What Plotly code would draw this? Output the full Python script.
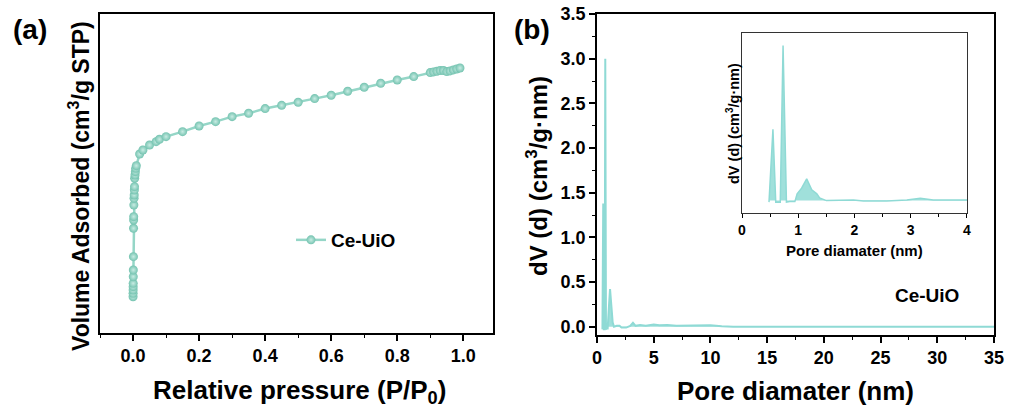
import plotly.graph_objects as go

# ---------- data ----------
# (a) N2 isotherm, Ce-UiO
rel_pressure = [0.0001, 0.0002, 0.0003, 0.0004, 0.0005, 0.0007, 0.0009, 0.0012, 0.0015, 0.0018,
                0.002, 0.0025, 0.003, 0.0035, 0.004, 0.0045, 0.005, 0.006, 0.007, 0.008, 0.01,
                0.02, 0.03, 0.05, 0.07, 0.08, 0.10, 0.15, 0.20, 0.25, 0.30, 0.35, 0.40, 0.45,
                0.50, 0.55, 0.60, 0.65, 0.70, 0.75, 0.80, 0.85, 0.90, 0.91, 0.92, 0.93, 0.94,
                0.95, 0.96, 0.97, 0.98, 0.99]
vol_adsorbed = [45.5, 49.7, 53.9, 58.1, 62.3, 70.6, 79.0, 95.7, 131.3, 141.7,
                145.9, 160.5, 168.9, 173.1, 179.3, 183.5, 194.0, 198.1, 202.3, 206.5, 209.8,
                224.4, 229.5, 235.7, 239.9, 242.9, 246.2, 252.5, 259.6, 265.0, 271.3, 275.5, 281.4, 285.5,
                289.3, 293.9, 298.1, 303.1, 308.1, 313.1, 317.3, 321.5, 326.5, 327.4, 328.2, 329.1, 329.1,
                327.8, 328.6, 329.9, 331.1, 332.3]

# (b) pore size distribution, Ce-UiO
pore_d = [0.48, 0.55, 0.60, 0.66, 0.68, 0.73, 0.79, 0.85, 0.94, 0.98, 1.06, 1.15, 1.24, 1.33,
          1.38, 1.50, 1.74, 1.98, 2.16, 2.57, 2.93, 3.17, 3.40, 3.8, 4.3, 5.0, 5.5, 6.2, 7.0,
          8.0, 9.0, 10.0, 11.0, 12.0, 15.0, 20.0, 25.0, 30.0, 35.0]
dv_d = [-0.03, 1.38, -0.03, -0.03, -0.03, 3.00, -0.03, -0.02, -0.02, 0.13, 0.24, 0.42, 0.21, 0.13,
        0.05, 0.0, 0.01, 0.01, -0.01, -0.01, 0.01, 0.045, 0.01, 0.02, 0.01, 0.025, 0.015, 0.02, 0.01,
        0.01, 0.015, 0.015, 0.005, 0.0, 0.0, 0.0, 0.0, 0.0, 0.0]

series_name = "Ce-UiO"
iso_xticks = [0.0, 0.2, 0.4, 0.6, 0.8, 1.0]
psd_xticks = [0, 5, 10, 15, 20, 25, 30, 35]
psd_yticks = [0.0, 0.5, 1.0, 1.5, 2.0, 2.5, 3.0, 3.5]
inset_xticks = [0, 1, 2, 3, 4]

# ---------- style ----------
FONT = "Liberation Sans"
W, H = 1011, 415
MARKER_C = "#74c3b0"
LINE_C = "#95d6c7"
PSD_C = "#8fdad5"
PSD_FILL = "rgba(143,218,213,0.85)"


def px_x(p):
    return p / W


def px_y(p):
    return 1 - p / H


fig = go.Figure()

fig.add_trace(go.Scatter(
    x=rel_pressure, y=vol_adsorbed, mode="lines+markers", name=series_name,
    line=dict(color=LINE_C, width=2.5),
    marker=dict(size=9, color=MARKER_C, gradient=dict(type="radial", color="#c8ece3")),
    xaxis="x", yaxis="y", showlegend=True,
))

fig.add_trace(go.Scatter(
    x=pore_d, y=dv_d, mode="lines", fill="tozeroy", fillcolor=PSD_FILL,
    line=dict(color=PSD_C, width=2), xaxis="x2", yaxis="y2", showlegend=False,
))

fig.add_trace(go.Scatter(
    x=pore_d, y=dv_d, mode="lines", fill="tozeroy", fillcolor=PSD_FILL,
    line=dict(color=PSD_C, width=1.5), xaxis="x3", yaxis="y3", showlegend=False,
))

tickfont = dict(family=FONT, size=18, color="black", weight="bold")
axline = dict(showline=True, linecolor="black", linewidth=1.6, mirror=True,
              showgrid=False, zeroline=False, automargin=False)

fig.update_layout(
    width=W, height=H, margin=dict(l=0, r=0, t=0, b=0, pad=0, autoexpand=False),
    paper_bgcolor="white", plot_bgcolor="rgba(0,0,0,0)",
    font=dict(family=FONT, color="black"),
    xaxis=dict(domain=[px_x(100), px_x(493)], range=[-0.1, 1.09], anchor="y",
               tickvals=iso_xticks, ticktext=[f"{v:.1f}" for v in iso_xticks],
               ticks="outside", ticklen=6, tickwidth=1.5, tickcolor="black",
               minor=dict(dtick=0.1, tick0=0, ticks="outside", ticklen=3.5, tickwidth=1.2, tickcolor="black"),
               tickfont=tickfont, **axline),
    yaxis=dict(domain=[px_y(333), px_y(14)], range=[0, 400], anchor="x",
               showticklabels=False, ticks="", **axline),
    xaxis2=dict(domain=[px_x(597), px_x(994)], range=[0, 35.0001], anchor="y2",
                tickvals=psd_xticks, ticks="outside", ticklen=6, tickwidth=1.5, tickcolor="black",
                minor=dict(dtick=2.5, tick0=0, ticks="outside", ticklen=3.5, tickwidth=1.2, tickcolor="black"),
                tickfont=tickfont, **axline),
    yaxis2=dict(domain=[px_y(335), px_y(14)], range=[-0.093, 3.5005], anchor="x2",
                tickvals=psd_yticks, ticktext=[f"{v:.1f}" for v in psd_yticks],
                ticks="outside", ticklen=6, tickwidth=1.5, tickcolor="black",
                minor=dict(dtick=0.25, tick0=0, ticks="outside", ticklen=3.5, tickwidth=1.2, tickcolor="black"),
                tickfont=tickfont, **axline),
    xaxis3=dict(domain=[px_x(742), px_x(967)], range=[0, 4.0001], anchor="y3",
                tickvals=inset_xticks, ticks="outside", ticklen=4, tickwidth=1, tickcolor="black",
                minor=dict(dtick=0.5, tick0=0, ticks="outside", ticklen=2.5, tickwidth=1, tickcolor="black"),
                tickfont=dict(family=FONT, size=14, color="black", weight="bold"),
                showline=True, linecolor="#333", linewidth=1, mirror=True, showgrid=False,
                zeroline=False, automargin=False),
    yaxis3=dict(domain=[px_y(213), px_y(33)], range=[-0.24, 3.24], anchor="x3",
                showticklabels=False, ticks="",
                showline=True, linecolor="#333", linewidth=1, mirror=True, showgrid=False,
                zeroline=False, automargin=False),
    legend=dict(x=px_x(291), y=px_y(240), xanchor="left", yanchor="middle",
                bgcolor="rgba(0,0,0,0)", itemwidth=30,
                font=dict(family=FONT, size=19, color="black", weight="bold")),
)


def ann(text, x, y, size, angle=0):
    fig.add_annotation(text=text, x=px_x(x), y=px_y(y), xref="paper", yref="paper",
                       showarrow=False, textangle=angle, xanchor="center", yanchor="middle",
                       font=dict(family=FONT, size=size, color="black", weight="bold"))


ann("(a)", 30, 29, 28)
ann("(b)", 532, 29, 28)
ann("Relative pressure (P/P<sub>0</sub>)", 299, 391, 26)
ann("Volume Adsorbed (cm<sup>3</sup>/g STP)", 79, 186, 23, -90)
ann("Pore diamater (nm)", 795, 391, 26)
ann("dV (d) (cm<sup>3</sup>/g·nm)", 537, 176, 24, -90)
ann("Pore diamater (nm)", 854, 250, 15)
ann("dV (d) (cm<sup>3</sup>/g·nm)", 733, 124, 14.5, -90)
ann(series_name, 927, 295, 19)

fig.write_html("out.html",
               config={"displayModeBar": False},
               post_script="document.body.style.margin='0';document.body.style.overflow='hidden';")
